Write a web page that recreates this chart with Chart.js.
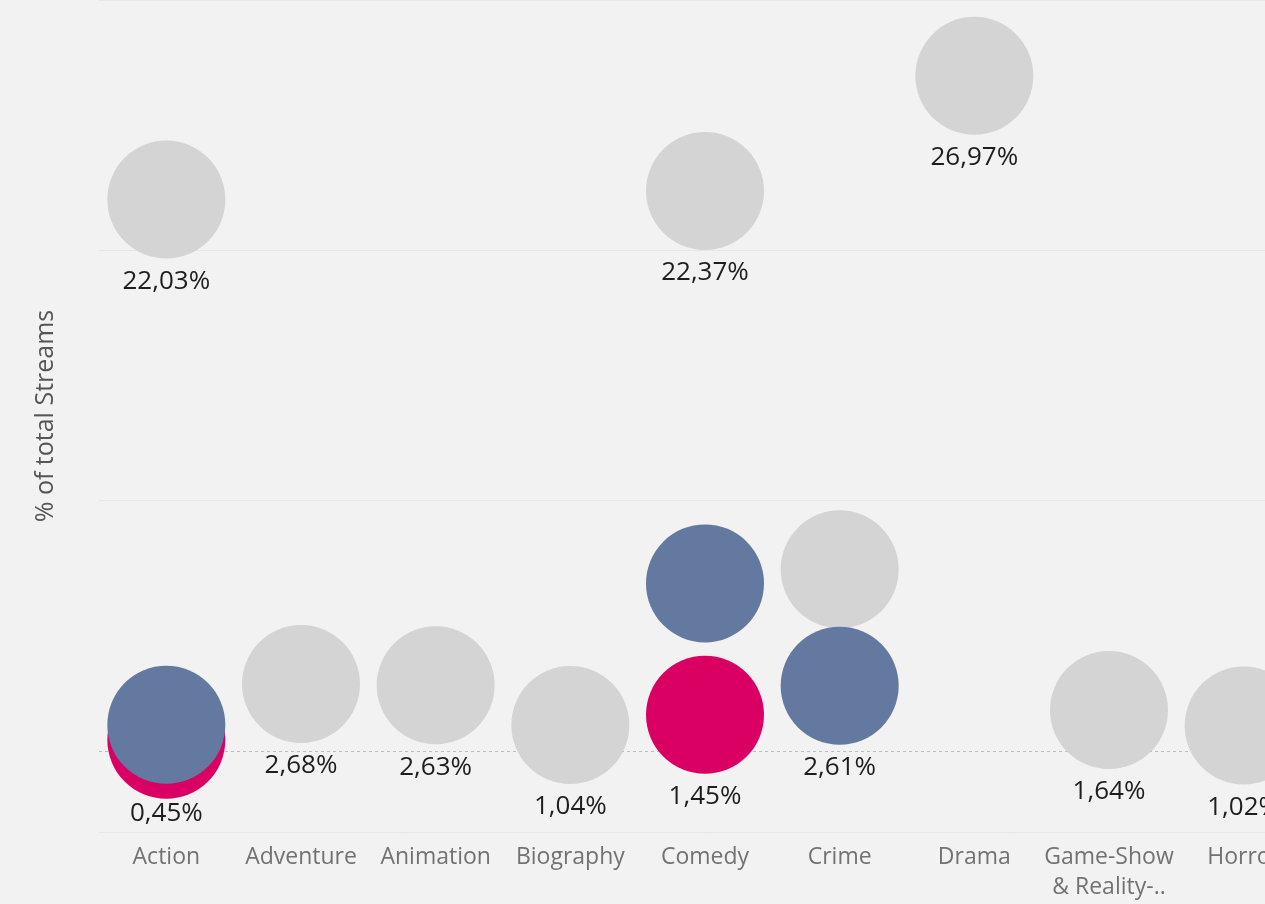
<!DOCTYPE html>
<html>
<head>
<meta charset="utf-8">
<script src="https://cdn.jsdelivr.net/npm/chart.js@4"></script>
<style>
	html, body { margin: 0; padding: 0; background: #f2f2f2; overflow: hidden; }
	#wrap { position: absolute; left: 0; top: 0; width: 1311px; height: 904px; }
</style>
</head>
<body>
<div id="wrap"><canvas id="myChart"></canvas></div>
<script>
	// data
	const genres = ['Action', 'Adventure', 'Animation', 'Biography', 'Comedy', 'Crime', 'Drama', ['Game-Show', '& Reality-..'], 'Horror'];
	const greyValues = [22.03, 2.68, 2.63, 1.04, 22.37, 7.26, 26.97, 1.64, 1.02];
	const blueValues = [1.05, null, null, null, 6.70, 2.61, null, null, null];
	const pinkValues = [0.45, null, null, null, 1.45, null, null, null, null];
	// which points keep their label (the others are hidden by overlap)
	const greyLabelled = [true, true, true, true, true, false, true, true, true];
	const blueLabelled = [false, false, false, false, false, true, false, false, false];
	const pinkLabelled = [true, false, false, false, true, false, false, false, false];
	const yTicks = [0, 10, 20, 30];
	const yMin = -3.23;
	const yMax = 30;

	Chart.defaults.font.family = "'Open Sans', sans-serif";

	const valueLabels = {
		id: 'valueLabels',
		afterDatasetsDraw(chart) {
			const ctx = chart.ctx;
			const area = chart.chartArea;
			ctx.save();
			ctx.font = "26px 'Open Sans', sans-serif";
			ctx.fillStyle = '#1e1e1e';
			ctx.textAlign = 'center';
			ctx.textBaseline = 'middle';
			chart.data.datasets.forEach((ds, i) => {
				const meta = chart.getDatasetMeta(i);
				meta.data.forEach((pt, j) => {
					const v = ds.data[j];
					if (v === null || !ds.labelled[j]) return;
					const y = Math.min(pt.y + 82, area.bottom - 18);
					ctx.fillText(v.toFixed(2).replace('.', ',') + '%', pt.x, y);
				});
			});
			ctx.restore();
		}
	};

	const dot = {
		showLine: false,
		clip: false,
		pointRadius: 59,
		pointHoverRadius: 59,
		pointBorderWidth: 0
	};

	// setup
	const data = {
		labels: genres,
		datasets: [
			Object.assign({ label: 'blue', data: blueValues, labelled: blueLabelled, backgroundColor: '#6479a0', pointBackgroundColor: '#6479a0' }, dot),
			Object.assign({ label: 'pink', data: pinkValues, labelled: pinkLabelled, backgroundColor: '#da0063', pointBackgroundColor: '#da0063' }, dot),
			Object.assign({ label: 'grey', data: greyValues, labelled: greyLabelled, backgroundColor: '#d4d4d4', pointBackgroundColor: '#d4d4d4' }, dot)
		]
	};

	// config
	const config = {
		type: 'line',
		data,
		options: {
			responsive: true,
			maintainAspectRatio: false,
			animation: false,
			events: [],
			layout: { padding: 0, autoPadding: false },
			plugins: {
				legend: { display: false },
				tooltip: { enabled: false }
			},
			scales: {
				x: {
					offset: true,
					grid: { display: false },
					border: { display: true, color: '#e6e6e6', width: 1 },
					ticks: {
						color: '#727272',
						font: { size: 23, lineHeight: 1.3 },
						padding: 3,
						maxRotation: 0,
						autoSkip: false
					},
					afterFit(scale) { scale.height = 72; }
				},
				y: {
					min: yMin,
					max: yMax,
					afterBuildTicks(scale) { scale.ticks = yTicks.map(v => ({ value: v })); },
					afterFit(scale) { scale.width = 99; },
					ticks: { display: false },
					grid: {
						drawTicks: false,
						color: (c) => c.tick && c.tick.value === 0 ? '#bdbdbd' : '#e6e6e6'
					},
					border: {
						display: false,
						dash: (c) => c.tick && c.tick.value === 0 ? [3, 3] : []
					},
					title: {
						display: true,
						text: '% of total Streams',
						color: '#555555',
						font: { size: 25 },
						padding: { top: 31, bottom: 0 }
					}
				}
			}
		},
		plugins: [valueLabels]
	};

	// render init block
	const myChart = new Chart(
		document.getElementById('myChart'),
		config
	);
</script>
</body>
</html>
